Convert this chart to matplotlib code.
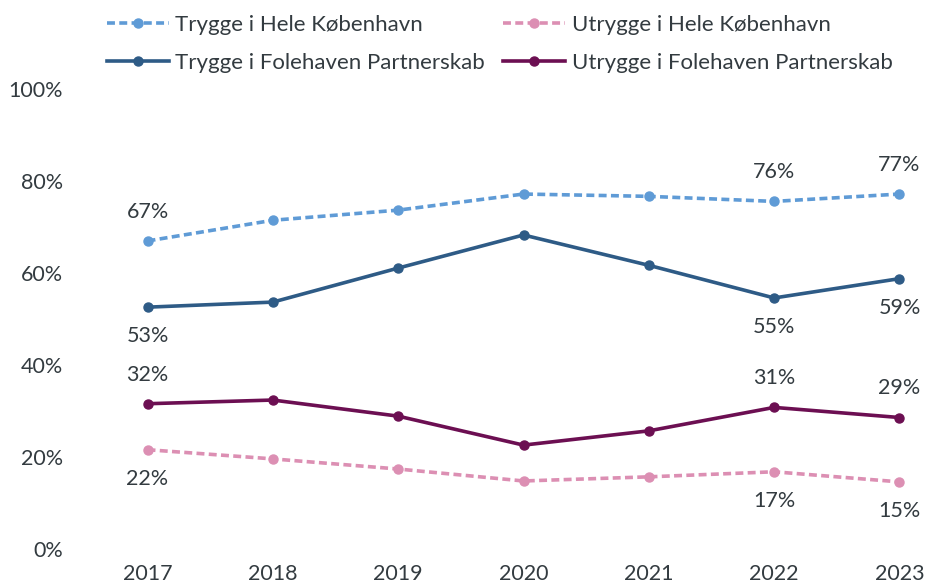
import matplotlib.pyplot as plt

plt.rcParams['font.family'] = ['Lato', 'DejaVu Sans']

years = ['2017', '2018', '2019', '2020', '2021', '2022', '2023']

trygge_kbh = [67.0, 71.5, 73.7, 77.2, 76.7, 75.6, 77.2]
trygge_fole = [52.6, 53.7, 61.1, 68.3, 61.7, 54.6, 58.8]
utrygge_kbh = [21.6, 19.6, 17.4, 14.8, 15.7, 16.8, 14.6]
utrygge_fole = [31.6, 32.4, 28.9, 22.6, 25.7, 30.8, 28.6]

label_idx = [0, 5, 6]  # punkter med dataetiketter

text_color = '#333b40'
fs = 15.5

fig = plt.figure(figsize=(9.31, 5.85), dpi=100)
ax = fig.add_axes([0.145, 0.0615, 0.8346, 0.786])

x = list(range(len(years)))

series = [
    (trygge_kbh, 'Trygge i Hele København', '#5f9bd6', (0, (2.2, 1.2)), 1),
    (trygge_fole, 'Trygge i Folehaven Partnerskab', '#2e5b86', '-', -1),
    (utrygge_kbh, 'Utrygge i Hele København', '#dc8fb3', (0, (2.2, 1.2)), -1),
    (utrygge_fole, 'Utrygge i Folehaven Partnerskab', '#6c0f52', '-', 1),
]

for vals, name, color, ls, side in series:
    ax.plot(x, vals, color=color, linestyle=ls, linewidth=2.6,
            marker='o', markersize=6.5, label=name)
    for i in label_idx:
        ax.annotate('%d%%' % round(vals[i]), (x[i], vals[i]),
                    xytext=(0, 21 * side), textcoords='offset points',
                    ha='center', va='center', fontsize=fs, color=text_color)

ax.set_xlim(-0.1, 6.1)
ax.set_ylim(0, 100)
ax.set_xticks(x)
ax.set_xticklabels(years)
ax.set_yticks(range(0, 101, 20))
ax.set_yticklabels(['%d%%' % v for v in range(0, 101, 20)])
ax.tick_params(axis='both', length=0, labelsize=fs, colors=text_color)
ax.tick_params(axis='y', pad=52)
ax.tick_params(axis='x', pad=11)
for s in ax.spines.values():
    s.set_visible(False)

handles, labels = ax.get_legend_handles_labels()
fig.legend(handles, labels, ncol=2, loc='upper left',
           bbox_to_anchor=(0.093, 1.009), frameon=False, fontsize=16,
           handlelength=2.8, handletextpad=0.3, columnspacing=0.8,
           labelspacing=0.8, labelcolor=text_color)

fig.savefig('out.png', dpi=100)
